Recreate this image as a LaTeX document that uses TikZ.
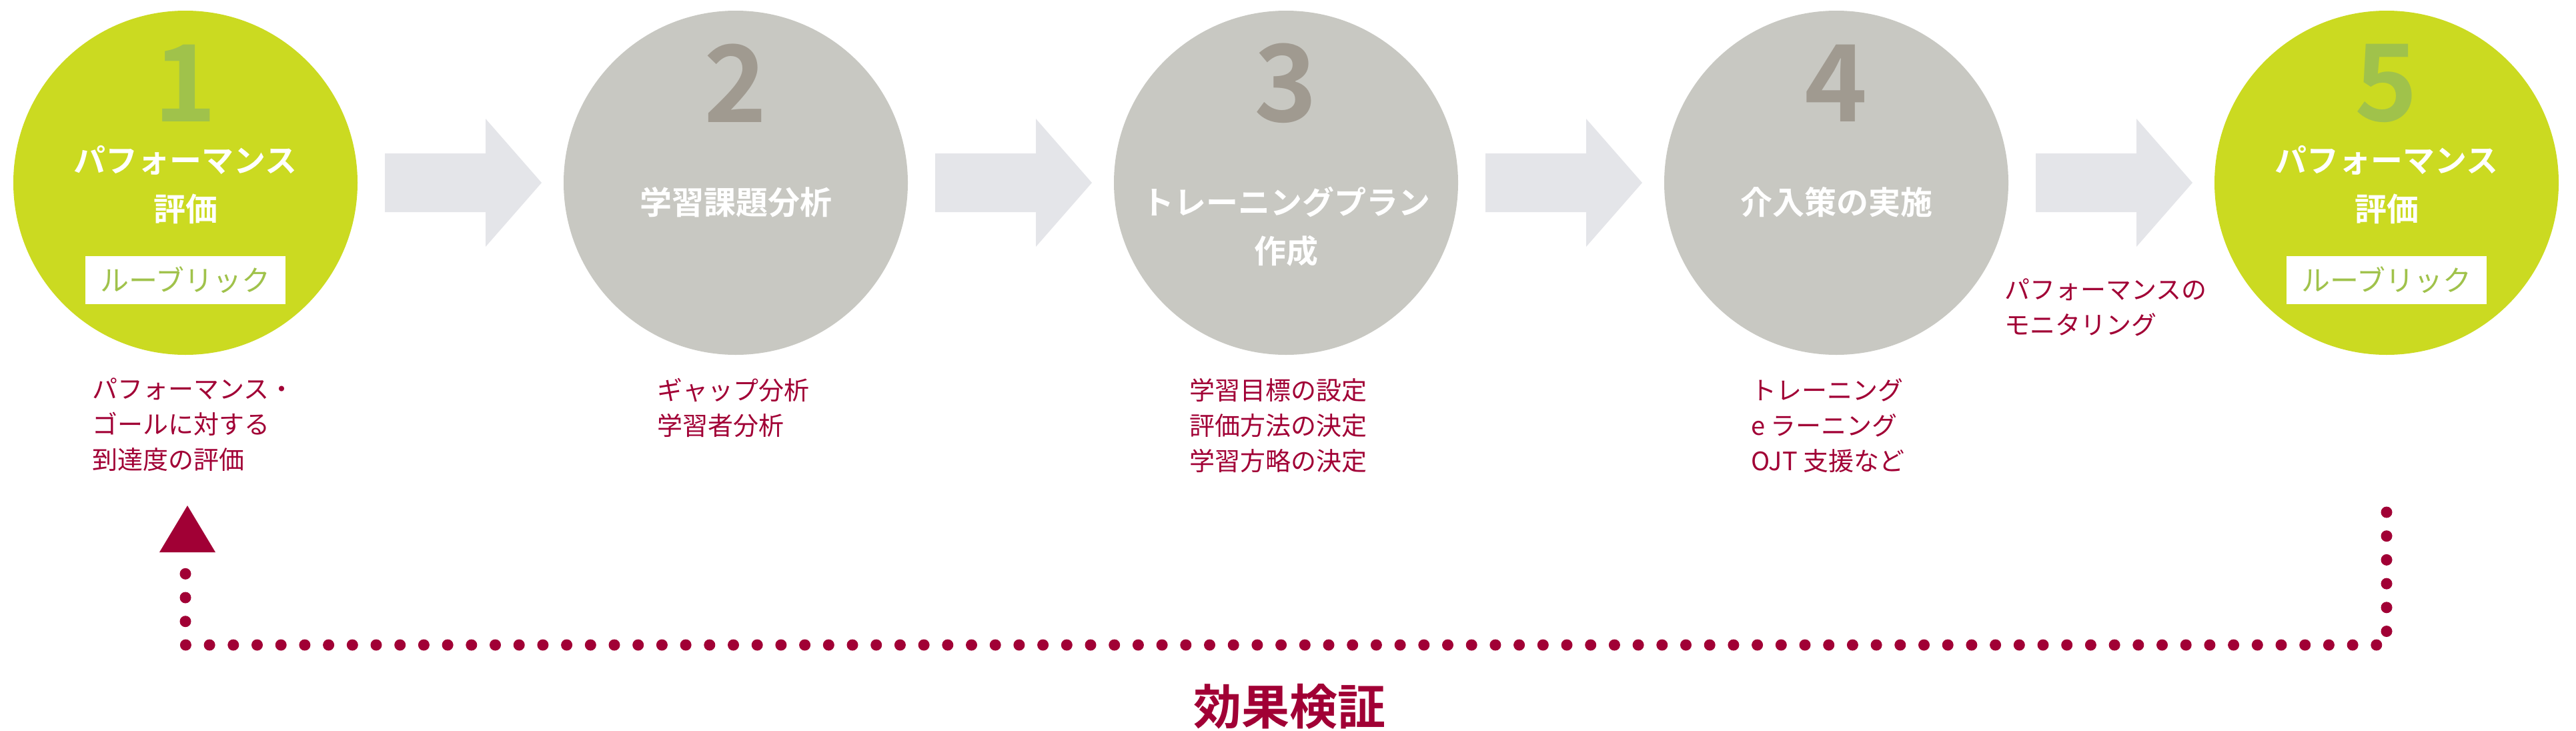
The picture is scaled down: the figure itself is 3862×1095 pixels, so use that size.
\documentclass[tikz,border=0pt]{standalone}
\usepackage{fontspec}
\setmainfont{Noto Sans CJK JP}
\newfontfamily\jpb{Noto Sans CJK JP Bold}
\definecolor{lime}{HTML}{CBDA21}
\definecolor{limenum}{HTML}{A0C24B}
\definecolor{grayc}{HTML}{C8C8C2}
\definecolor{graynum}{HTML}{A09A90}
\definecolor{crim}{HTML}{A10035}
\definecolor{arr}{HTML}{E4E5E9}
\begin{document}
\begin{tikzpicture}[x=1pt,y=-1pt,
  circ/.style={circle,minimum size=516pt,inner sep=0pt},
  num/.style={font=\jpb\fontsize{160}{160}\selectfont},
  ttl/.style={font=\jpb\fontsize{48}{73}\selectfont,text=white,align=center},
  rub/.style={fill=white,minimum width=300pt,minimum height=72pt,inner sep=0pt,text=limenum,font=\fontsize{43}{43}\selectfont},
  note/.style={anchor=north west,inner sep=0pt,text=crim,align=left,font=\fontsize{38}{53}\selectfont},
  dotline/.style={crim,line width=17pt,line cap=round,dash pattern=on 0pt off 35.7pt}]
\useasboundingbox (0,0) rectangle (3862,1095);
% circles
\node[circ,fill=lime] (c1) at (278,274) {};
\node[circ,fill=grayc] (c2) at (1103,274) {};
\node[circ,fill=grayc] (c3) at (1928,274) {};
\node[circ,fill=grayc] (c4) at (2753,274) {};
\node[circ,fill=lime] (c5) at (3578,274) {};
% arrows
\foreach \c in {278,1103,1928,2753}{
  \fill[arr] (\c+299,230) -- (\c+450,230) -- (\c+450,178) -- (\c+534,274) -- (\c+450,370) -- (\c+450,318) -- (\c+299,318) -- cycle;
}
% numbers
\node[num,text=limenum] (n1) at (278,125) {1};
\node[num,text=graynum] (n2) at (1103,125) {2};
\node[num,text=graynum] (n3) at (1928,125) {3};
\node[num,text=graynum] (n4) at (2753,125) {4};
\node[num,text=limenum] (n5) at (3578,125) {5};
% titles
\node[ttl] (t1) at (278,277) {パフォーマンス\\評価};
\node[ttl] (t2) at (1103,303) {学習課題分析};
\node[ttl] (t3) at (1928,340) {トレーニングプラン\\作成};
\node[ttl] (t4) at (2753,303) {介入策の実施};
\node[ttl] (t5) at (3578,277) {パフォーマンス\\評価};
\node[rub] (r1) at (278,420) {ルーブリック};
\node[rub] (r5) at (3578,420) {ルーブリック};
% notes
\node[note] (d1) at (138,567) {パフォーマンス・\\ゴールに対する\\到達度の評価};
\node[note] (d2) at (985,567) {ギャップ分析\\学習者分析};
\node[note] (d3) at (1783,567) {学習目標の設定\\評価方法の決定\\学習方略の決定};
\node[note] (d4) at (2625,567) {トレーニング\\e ラーニング\\OJT 支援など};
\node[note] (d45) at (3005,418) {パフォーマンスの\\モニタリング};
% feedback loop
\coordinate (p1) at (3578,768);
\coordinate (p2) at (3578,967);
\coordinate (p3) at (278,967);
\coordinate (p4) at (278,850);
\draw[dotline] (p1) -- (p2) -- (p3) -- (p4);
\fill[crim] (239,828) -- (281,758) -- (323,828) -- cycle;
\node[text=crim,font=\jpb\fontsize{72}{72}\selectfont] (fx) at (1933,1059) {効果検証};
\end{tikzpicture}
\end{document}
